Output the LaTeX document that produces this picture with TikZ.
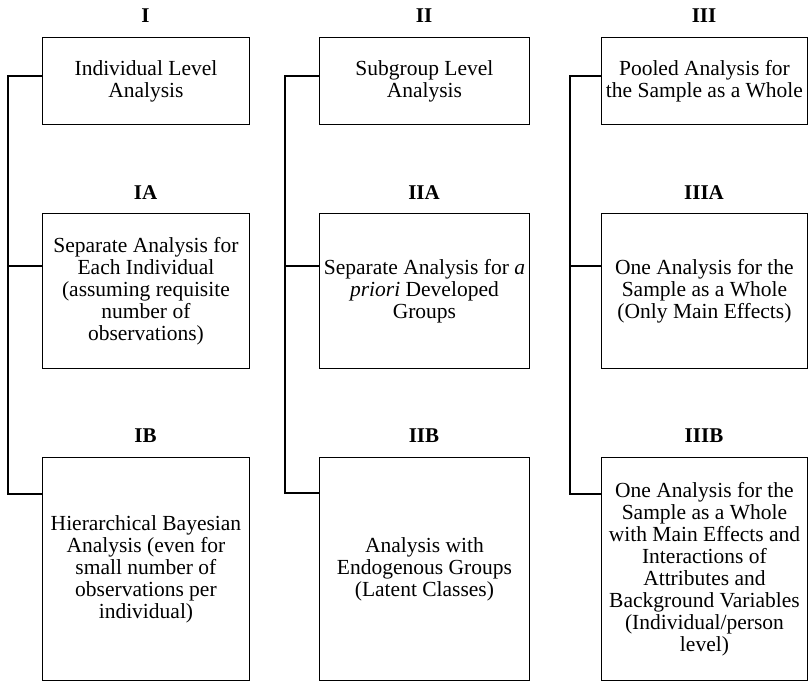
\documentclass[tikz,border=0pt]{standalone}
\usepackage{fontspec}
\setmainfont{Liberation Serif}
\begin{document}
\begin{tikzpicture}[x=1pt,y=-1pt,
  box/.style={draw=black,line width=0.9pt,anchor=north west,align=center,inner sep=0pt,
    font=\fontsize{21.5}{22}\selectfont},
  lab/.style={font=\fontsize{21}{22}\selectfont\bfseries,anchor=center,inner sep=0pt},
  conn/.style={draw=black,line width=2pt}]
\useasboundingbox (0,0) rectangle (808,682);
% column I
\node[lab] (lI) at (145.5,16) {I};
\node[box,minimum width=207pt,minimum height=87pt] (bI) at (42,37) {Individual Level\\Analysis};
\node[lab] (lIA) at (145.5,193) {IA};
\node[box,minimum width=207pt,minimum height=155pt] (bIA) at (42,213) {Separate Analysis for\\Each Individual\\(assuming requisite\\number of\\observations)};
\node[lab] (lIB) at (145.5,436) {IB};
\node[box,minimum width=207pt,minimum height=223pt] (bIB) at (42,457) {Hierarchical Bayesian\\Analysis (even for\\small number of\\observations per\\individual)};
% column II
\node[lab] (lII) at (424,16) {II};
\node[box,minimum width=210pt,minimum height=87pt] (bII) at (319,37) {Subgroup Level\\Analysis};
\node[lab] (lIIA) at (424,193) {IIA};
\node[box,minimum width=210pt,minimum height=155pt] (bIIA) at (319,213) {Separate Analysis for \textit{a}\\\textit{priori} Developed\\Groups};
\node[lab] (lIIB) at (424,436) {IIB};
\node[box,minimum width=210pt,minimum height=223pt] (bIIB) at (319,457) {Analysis with\\Endogenous Groups\\(Latent Classes)};
% column III
\node[lab] (lIII) at (704,16) {III};
\node[box,minimum width=206pt,minimum height=87pt] (bIII) at (601,37) {Pooled Analysis for\\the Sample as a Whole};
\node[lab] (lIIIA) at (704,193) {IIIA};
\node[box,minimum width=206pt,minimum height=155pt] (bIIIA) at (601,213) {One Analysis for the\\Sample as a Whole\\(Only Main Effects)};
\node[lab] (lIIIB) at (704,436) {IIIB};
\node[box,minimum width=206pt,minimum height=223pt] (bIIIB) at (601,457) {One Analysis for the\\Sample as a Whole\\with Main Effects and\\Interactions of\\Attributes and\\Background Variables\\(Individual/person\\level)};
% junctions
\coordinate (j1a) at (8,76);
\coordinate (j1b) at (8,266);
\coordinate (j1c) at (8,494);
\coordinate (j2a) at (285,76);
\coordinate (j2b) at (285,266);
\coordinate (j2c) at (285,493);
\coordinate (j3a) at (570,76);
\coordinate (j3b) at (570,266);
\coordinate (j3c) at (570,494);
% connectors
\draw[conn] (bI.west |- j1a) -- (j1a) -- (j1c) -- (bIB.west |- j1c);
\draw[conn] (j1b) -- (bIA.west |- j1b);
\draw[conn] (bII.west |- j2a) -- (j2a) -- (j2c) -- (bIIB.west |- j2c);
\draw[conn] (j2b) -- (bIIA.west |- j2b);
\draw[conn] (bIII.west |- j3a) -- (j3a) -- (j3c) -- (bIIIB.west |- j3c);
\draw[conn] (j3b) -- (bIIIA.west |- j3b);
\end{tikzpicture}
\end{document}
